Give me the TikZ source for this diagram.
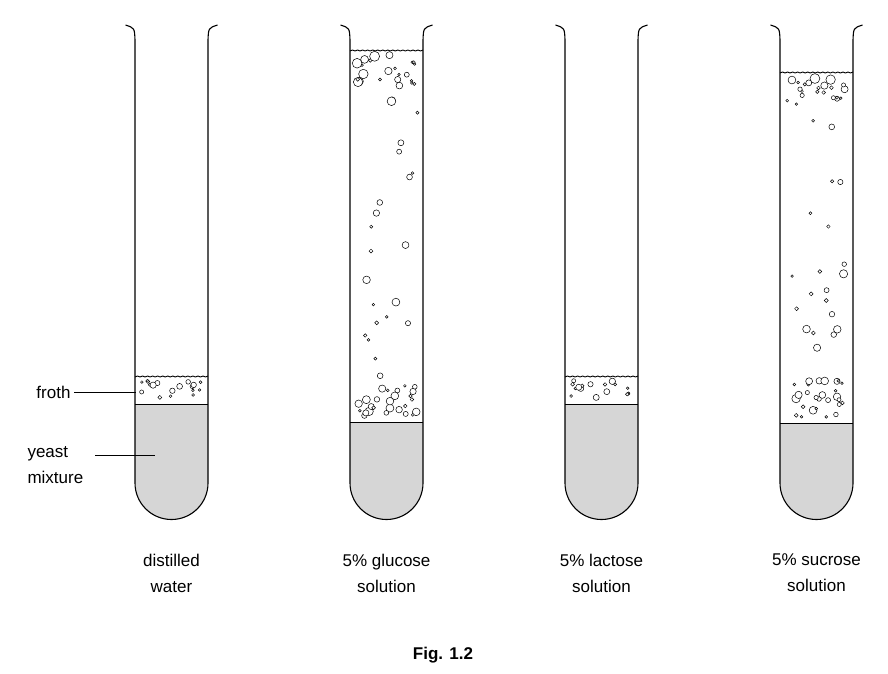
\documentclass[tikz,border=0pt]{standalone}
\usepackage{fontspec}
\setmainfont{Liberation Sans}
\usetikzlibrary{positioning}

\tikzset{
  wall/.style={black, line width=1.1pt},
  mix/.style={fill=black!16},
  bub/.style={black, line width=0.5pt, fill=white},
  lbl/.style={font=\fontsize{17}{26}\selectfont, align=center},
  pointer/.style={black, line width=0.6pt}
}

% tube: centre x, top of yeast mixture, top of froth
\newcommand{\tubeshape}[1]{(#1-36.5,40) -- (#1-36.5,483) arc (180:0:36.5) -- (#1+36.5,40)}
\newcommand{\drawtube}[3]{%
  \begin{scope}
    \clip \tubeshape{#1} -- cycle;
    \fill[mix] (#1-40,#2) rectangle (#1+40,530);
  \end{scope}
  \draw[black, line width=0.9pt] (#1-36.5,#2) -- (#1+36.5,#2);
  \draw[black, line width=0.9pt] (#1-36.5,#3+1) \foreach \k in {0,...,28}{ -- ++(2.517,{mod(\k,2)*2-1}) };
  \draw[wall] (#1-46,25) .. controls (#1-37,28) .. (#1-36.5,40) -- (#1-36.5,483)
    arc (180:0:36.5) -- (#1+36.5,40) .. controls (#1+37,28) .. (#1+46,25);
}
% bubbles in a band: centre x, top, bottom, count, max radius
\newcommand{\bubbles}[5]{%
  \foreach \i in {1,...,#4}{
    \pgfmathsetmacro{\bx}{#1-31+62*rnd}
    \pgfmathsetmacro{\by}{#2+4+(#3-#2-8)*rnd}
    \pgfmathsetmacro{\br}{1.3+(#5-1.3)*rnd^2}
    \draw[bub] (\bx,\by) circle (\br);
  }
}

\begin{document}
\begin{tikzpicture}[x=1pt,y=-1pt]
  \useasboundingbox (0,0) rectangle (888,674);
  \pgfmathsetseed{17}

  % distilled water
  \drawtube{171.5}{404}{376}
  \bubbles{171.5}{376}{402}{18}{3.5}
  % glucose
  \drawtube{386.5}{422}{50}
  \bubbles{386.5}{50}{90}{24}{5}
  \bubbles{386.5}{90}{380}{22}{4.5}
  \bubbles{386.5}{380}{420}{26}{4.5}
  % lactose
  \drawtube{601.5}{404}{376}
  \bubbles{601.5}{376}{402}{18}{3.5}
  % sucrose
  \drawtube{816.5}{423}{72}
  \bubbles{816.5}{72}{112}{24}{5}
  \bubbles{816.5}{112}{375}{20}{4.5}
  \bubbles{816.5}{375}{421}{28}{4.5}

  \node[lbl, anchor=east] (froth) at (74,392) {froth};
  \coordinate (frothend) at (136,392);
  \draw[pointer] (froth.east) -- (frothend);
  \node[lbl, anchor=west, align=left] (yeast) at (24,465) {yeast\\mixture};
  \coordinate (yeastend) at (155,455);
  \draw[pointer] (95,455) -- (yeastend);

  \node[lbl] (water) at (171.5,573) {distilled\\water};
  \node[lbl] (glucose) at (386.5,573) {5\% glucose\\solution};
  \node[lbl] (lactose) at (601.5,573) {5\% lactose\\solution};
  \node[lbl] (sucrose) at (816.5,573) {5\% sucrose\\solution};
  \node[lbl, font=\fontsize{17}{20}\selectfont\bfseries] (fig) at (443,655) {Fig. 1.2};
\end{tikzpicture}
\end{document}
